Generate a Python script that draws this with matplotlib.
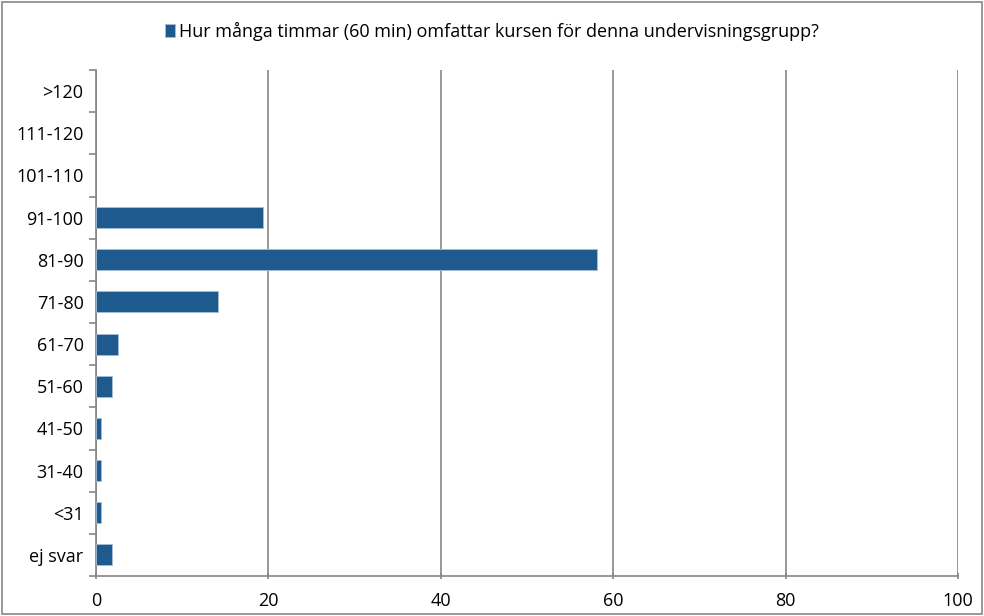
import numpy as np
import matplotlib.pyplot as plt
from matplotlib.patches import Rectangle

categories = ['ej svar', '<31', '31-40', '41-50', '51-60', '61-70', '71-80',
              '81-90', '91-100', '101-110', '111-120', '>120']
values = [1.9, 0.6, 0.6, 0.6, 1.9, 2.6, 14.2, 58.1, 19.4, 0, 0, 0]
series_name = 'Hur många timmar (60 min) omfattar kursen för denna undervisningsgrupp?'

plt.rcParams['font.family'] = ['Open Sans', 'DejaVu Sans']
grey = '#868686'
blue = '#1f5a8e'
fs = 13

fig = plt.figure(figsize=(9.84, 6.16), dpi=100)
ax = fig.add_axes([96 / 984, 1 - 576 / 616, (958 - 96) / 984, (576 - 70) / 616])

y = np.arange(len(categories))
lw = [0.6 if v > 0 else 0 for v in values]
ax.barh(y, values, height=0.5, color=blue, edgecolor='#a7bfd6', linewidth=lw, zorder=3,
        label=series_name)

ax.set_xlim(0, 100)
ax.set_ylim(-0.5, len(categories) - 0.5)
ax.set_xticks(np.arange(0, 101, 20))
ax.set_yticks(y)
ax.set_yticklabels(categories)
ax.set_yticks(np.arange(-0.5, len(categories), 1), minor=True)
ax.tick_params(axis='y', which='major', length=0, labelsize=fs, pad=9)
ax.tick_params(axis='y', which='minor', length=5, color=grey, width=1.2)
ax.tick_params(axis='x', length=5, color=grey, width=1.2, labelsize=fs, pad=9, direction='inout')
ax.grid(axis='x', color=grey, linewidth=1.2, zorder=0)

for s in ['top', 'right']:
    ax.spines[s].set_visible(False)
for s in ['left', 'bottom']:
    ax.spines[s].set_color(grey)
    ax.spines[s].set_linewidth(1.2)

leg = fig.legend(loc='center', bbox_to_anchor=(0.5, 1 - 31 / 616), frameon=False,
                 fontsize=fs, handlelength=0.55, handleheight=0.7, handletextpad=0.2)

fig.patches.append(Rectangle((2 / 984, 2 / 616), 980 / 984, 612 / 616, transform=fig.transFigure,
                             fill=False, edgecolor=grey, linewidth=1.2))

fig.savefig('out.png', dpi=100)
